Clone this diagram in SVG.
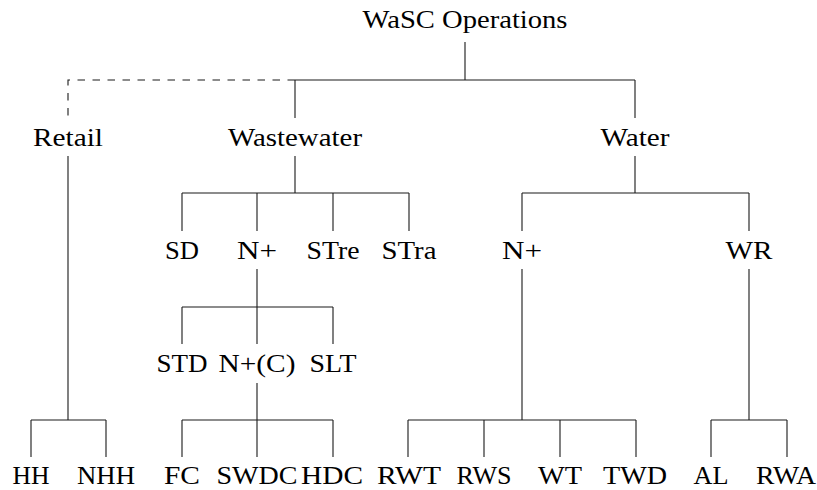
<svg xmlns="http://www.w3.org/2000/svg" width="817" height="490" viewBox="0 0 817 490">
<style>
text{font-family:"Liberation Serif","Times New Roman",serif;font-size:25px;fill:#000;text-anchor:middle}
.e{fill:none;stroke:#1a1a1a;stroke-width:1.1}
.d{fill:none;stroke:#1a1a1a;stroke-width:1.1;stroke-dasharray:7.5 7.5}
</style>
<rect width="817" height="490" fill="#fff"/>
<g id="connectors">
<path class="e" d="M465 42V80M295 80H635M295 80V118M635 80V118"/>
<path class="d" d="M295 80H68V118"/>
<path class="e" d="M68 156V420M31 420H106M31 420V457M106 420V457"/>
<path class="e" d="M295 156V193M182 193H409M182 193V231M257 193V231M333 193V231M409 193V231"/>
<path class="e" d="M635 156V193M522 193H749M522 193V231M749 193V231"/>
<path class="e" d="M257 269V307M182 307H333M182 307V344M257 307V344M333 307V344"/>
<path class="e" d="M257 383V420M182 420H333M182 420V457M257 420V457M333 420V457"/>
<path class="e" d="M522 269V420M408 420H636M408 420V457M484 420V457M560 420V457M636 420V457"/>
<path class="e" d="M749 269V420M711 420H787M711 420V457M787 420V457"/>
</g>
<g id="root"><text x="465" y="28" textLength="205" lengthAdjust="spacingAndGlyphs">WaSC Operations</text></g>
<g id="retail"><text x="68" y="146" textLength="70" lengthAdjust="spacingAndGlyphs">Retail</text></g>
<g id="wastewater"><text x="295" y="146" textLength="134" lengthAdjust="spacingAndGlyphs">Wastewater</text></g>
<g id="water"><text x="635" y="146" textLength="69" lengthAdjust="spacingAndGlyphs">Water</text></g>
<g id="sd"><text x="182" y="259" textLength="34" lengthAdjust="spacingAndGlyphs">SD</text></g>
<g id="nplus-ww"><text x="257" y="259" textLength="40" lengthAdjust="spacingAndGlyphs">N+</text></g>
<g id="stre"><text x="333" y="259" textLength="53" lengthAdjust="spacingAndGlyphs">STre</text></g>
<g id="stra"><text x="409" y="259" textLength="55" lengthAdjust="spacingAndGlyphs">STra</text></g>
<g id="nplus-w"><text x="522" y="259" textLength="40" lengthAdjust="spacingAndGlyphs">N+</text></g>
<g id="wr"><text x="749" y="259" textLength="47" lengthAdjust="spacingAndGlyphs">WR</text></g>
<g id="std"><text x="182" y="372" textLength="51" lengthAdjust="spacingAndGlyphs">STD</text></g>
<g id="nplus-c"><text x="257" y="372" textLength="77" lengthAdjust="spacingAndGlyphs">N+(C)</text></g>
<g id="slt"><text x="333" y="372" textLength="47" lengthAdjust="spacingAndGlyphs">SLT</text></g>
<g id="hh"><text x="31" y="484" textLength="37" lengthAdjust="spacingAndGlyphs">HH</text></g>
<g id="nhh"><text x="106" y="484" textLength="58" lengthAdjust="spacingAndGlyphs">NHH</text></g>
<g id="fc"><text x="182" y="484" textLength="36" lengthAdjust="spacingAndGlyphs">FC</text></g>
<g id="swdc"><text x="257" y="484" textLength="81" lengthAdjust="spacingAndGlyphs">SWDC</text></g>
<g id="hdc"><text x="332" y="484" textLength="62" lengthAdjust="spacingAndGlyphs">HDC</text></g>
<g id="rwt"><text x="409" y="484" textLength="64" lengthAdjust="spacingAndGlyphs">RWT</text></g>
<g id="rws"><text x="484" y="484" textLength="55" lengthAdjust="spacingAndGlyphs">RWS</text></g>
<g id="wt"><text x="560" y="484" textLength="44" lengthAdjust="spacingAndGlyphs">WT</text></g>
<g id="twd"><text x="635" y="484" textLength="64" lengthAdjust="spacingAndGlyphs">TWD</text></g>
<g id="al"><text x="711" y="484" textLength="35" lengthAdjust="spacingAndGlyphs">AL</text></g>
<g id="rwa"><text x="786" y="484" textLength="60" lengthAdjust="spacingAndGlyphs">RWA</text></g>
</svg>
